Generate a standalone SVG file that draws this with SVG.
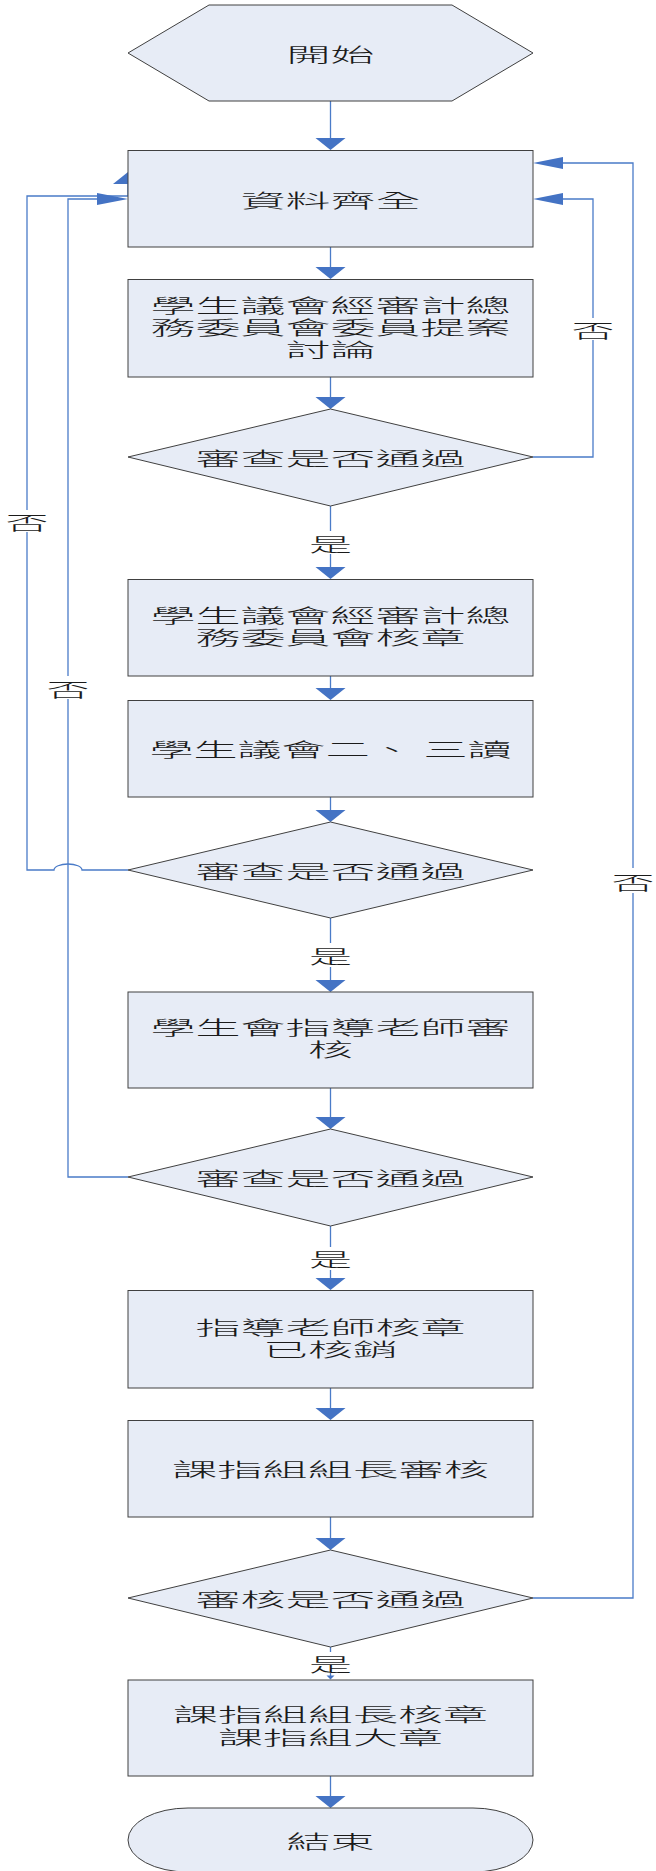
<svg xmlns="http://www.w3.org/2000/svg" width="656" height="1871" viewBox="0 0 656 1871">
<style>
.shape{fill:#E7ECF6;stroke:#404040;stroke-width:1}
.t{font-family:"Noto Sans CJK TC","Noto Sans CJK SC",sans-serif;font-size:19px;font-weight:300;fill:#1a1a1a;text-anchor:middle;dominant-baseline:central}
.m{font-family:"Liberation Sans","Noto Sans CJK TC",sans-serif;font-size:19px;font-weight:300;fill:#1a1a1a;text-anchor:middle}
.ln{fill:none;stroke:#4A7BC8;stroke-width:1.3}
.ah{fill:#4473C4;stroke:none}
.lbl{font-family:"Noto Sans CJK TC","Noto Sans CJK SC",sans-serif;font-size:19px;font-weight:300;fill:#1a1a1a;text-anchor:middle;dominant-baseline:central}
</style>
<rect width="656" height="1871" fill="#ffffff"/>

<g id="connectors">
  <path class="ln" d="M330.5 101V138 M330.5 247V267 M330.5 377V397 M330.5 506V531 M330.5 554V567 M330.5 676V688 M330.5 797V810 M330.5 918V943 M330.5 967V980 M330.5 1088V1117 M330.5 1226V1247 M330.5 1270V1278 M330.5 1388V1408 M330.5 1517V1538 M330.5 1647V1652 M330.5 1673V1676 M330.5 1776V1796"/>
  <path class="ah" d="M315.5 138H345.5L330.5 150Z M315.5 267H345.5L330.5 279Z M315.5 397H345.5L330.5 409Z M315.5 567H345.5L330.5 579Z M315.5 688H345.5L330.5 700Z M315.5 810H345.5L330.5 822Z M315.5 980H345.5L330.5 992Z M315.5 1117H345.5L330.5 1129Z M315.5 1278H345.5L330.5 1290Z M315.5 1408H345.5L330.5 1420Z M315.5 1538H345.5L330.5 1550Z M326.5 1675.5H334.5L330.5 1679.5Z M315.5 1796H345.5L330.5 1808Z"/>
  <path class="ln" d="M533 457H593V340 M593 318V199H563"/>
  <path class="ah" d="M563 193V205L533 199Z"/>
  <path class="ln" d="M533 1598H633V893 M633 868V163H563"/>
  <path class="ah" d="M563 157V169L533 163Z"/>
  <path class="ln" d="M128 870H82A14 6 0 0 0 54 870H27V532 M27 510V196H128V184"/>
  <path class="ah" d="M113 184H143L128 172Z"/>
  <path class="ln" d="M128 1177H68V699 M68 676V199H97"/>
  <path class="ah" d="M97 193V205L128 199Z"/>
  <text class="lbl" x="330.5" y="543" textLength="43" lengthAdjust="spacingAndGlyphs">是</text>
  <text class="lbl" x="330.5" y="955" textLength="43" lengthAdjust="spacingAndGlyphs">是</text>
  <text class="lbl" x="330.5" y="1258" textLength="43" lengthAdjust="spacingAndGlyphs">是</text>
  <text class="lbl" x="330.5" y="1663" textLength="43" lengthAdjust="spacingAndGlyphs">是</text>
  <text class="lbl" x="593" y="329" textLength="43" lengthAdjust="spacingAndGlyphs">否</text>
  <text class="lbl" x="633" y="881" textLength="43" lengthAdjust="spacingAndGlyphs">否</text>
  <text class="lbl" x="27" y="521" textLength="43" lengthAdjust="spacingAndGlyphs">否</text>
  <text class="lbl" x="68" y="688" textLength="43" lengthAdjust="spacingAndGlyphs">否</text>
</g>

<g id="start">
  <polygon class="shape" points="128,53 209,5 452,5 533,53 452,101 209,101"/>
  <text class="t" x="330.5" y="53" textLength="88" lengthAdjust="spacingAndGlyphs">開始</text>
</g>

<g id="box1">
  <rect class="shape" x="128" y="150.5" width="405" height="96.5"/>
  <text class="t" x="330.5" y="199" textLength="180" lengthAdjust="spacingAndGlyphs">資料齊全</text>
</g>

<g id="box2">
  <rect class="shape" x="128" y="279.5" width="405" height="97.5"/>
  <text class="m" transform="translate(330.5 0) scale(2.37 1)"><tspan x="0" y="313">學生議會經審計總</tspan><tspan x="0" y="335">務委員會委員提案</tspan><tspan x="0" y="357">討論</tspan></text>
</g>

<g id="decision1">
  <polygon class="shape" points="330.5,409 533,457 330.5,506 128,457"/>
  <text class="t" x="330.5" y="457" textLength="270" lengthAdjust="spacingAndGlyphs">審查是否通過</text>
</g>

<g id="box3">
  <rect class="shape" x="128" y="579.5" width="405" height="96.5"/>
  <text class="m" transform="translate(330.5 0) scale(2.37 1)"><tspan x="0" y="623">學生議會經審計總</tspan><tspan x="0" y="645">務委員會核章</tspan></text>
</g>

<g id="box4">
  <rect class="shape" x="128" y="700.5" width="405" height="96.5"/>
  <text class="t" x="330.5" y="748" textLength="362" lengthAdjust="spacingAndGlyphs">學生議會二、 三讀</text>
</g>

<g id="decision2">
  <polygon class="shape" points="330.5,822 533,870 330.5,918 128,870"/>
  <text class="t" x="330.5" y="870" textLength="270" lengthAdjust="spacingAndGlyphs">審查是否通過</text>
</g>

<g id="box5">
  <rect class="shape" x="128" y="992" width="405" height="96"/>
  <text class="m" transform="translate(330.5 0) scale(2.37 1)"><tspan x="0" y="1035">學生會指導老師審</tspan><tspan x="0" y="1057">核</tspan></text>
</g>

<g id="decision3">
  <polygon class="shape" points="330.5,1129 533,1177 330.5,1226 128,1177"/>
  <text class="t" x="330.5" y="1177" textLength="270" lengthAdjust="spacingAndGlyphs">審查是否通過</text>
</g>

<g id="box6">
  <rect class="shape" x="128" y="1290.5" width="405" height="97.5"/>
  <text class="m" transform="translate(330.5 0) scale(2.37 1)"><tspan x="0" y="1335">指導老師核章</tspan><tspan x="0" y="1357">已核銷</tspan></text>
</g>

<g id="box7">
  <rect class="shape" x="128" y="1420.5" width="405" height="96.5"/>
  <text class="t" x="330.5" y="1468" textLength="317" lengthAdjust="spacingAndGlyphs">課指組組長審核</text>
</g>

<g id="decision4">
  <polygon class="shape" points="330.5,1550 533,1598 330.5,1647 128,1598"/>
  <text class="t" x="330.5" y="1598" textLength="270" lengthAdjust="spacingAndGlyphs">審核是否通過</text>
</g>

<g id="box8">
  <rect class="shape" x="128" y="1680" width="405" height="96"/>
  <text class="m" transform="translate(330.5 0) scale(2.37 1)"><tspan x="0" y="1722">課指組組長核章</tspan><tspan x="0" y="1745">課指組大章</tspan></text>
</g>

<g id="end">
  <rect class="shape" x="128" y="1808" width="405" height="64" rx="60" ry="32"/>
  <text class="t" x="330.5" y="1840" textLength="88" lengthAdjust="spacingAndGlyphs">結束</text>
</g>
</svg>
